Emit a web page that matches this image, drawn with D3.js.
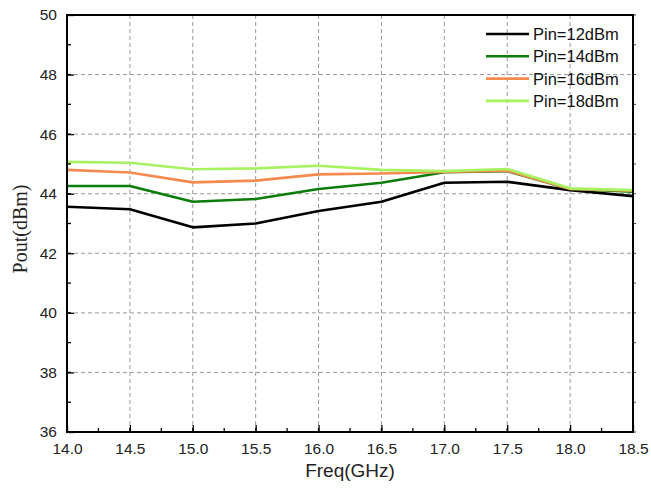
<!DOCTYPE html>
<html><head><meta charset="utf-8">
<script src="https://cdn.jsdelivr.net/npm/d3@7"></script>
<style>body{margin:0;background:#fff}svg{display:block}</style>
</head><body>
<script>
const freq = [14.0,14.5,15.0,15.5,16.0,16.5,17.0,17.5,18.0,18.5];
const pin12 = [43.56,43.48,42.87,43.00,43.42,43.73,44.37,44.40,44.12,43.92];
const pin14 = [44.26,44.26,43.73,43.82,44.16,44.37,44.72,44.76,44.16,44.07];
const pin16 = [44.80,44.71,44.38,44.44,44.65,44.68,44.73,44.77,44.16,44.10];
const pin18 = [45.07,45.04,44.82,44.85,44.94,44.80,44.76,44.83,44.18,44.12];
const seriesNames = ["Pin=12dBm","Pin=14dBm","Pin=16dBm","Pin=18dBm"];
const seriesColors = ["#000000","#0b7d0b","#f58a4e","#a6f261"];
const xTicks = [14.0,14.5,15.0,15.5,16.0,16.5,17.0,17.5,18.0,18.5];
const yTicks = [36,38,40,42,44,46,48,50];

const W=651,H=491;
const m={l:67,t:15,r:633,b:432};
const svg=d3.select("body").append("svg").attr("width",W).attr("height",H);
const x=d3.scaleLinear().domain([14,18.5]).range([m.l,m.r]);
const y=d3.scaleLinear().domain([36,50]).range([m.b,m.t]);

// grid
const g=svg.append("g");
g.selectAll(".gx").data(xTicks.filter(v=>v>14&&v<18.5)).enter().append("line")
 .attr("x1",d=>x(d)).attr("x2",d=>x(d)).attr("y1",m.t).attr("y2",m.b)
 .attr("stroke","#999").attr("stroke-width",1).attr("stroke-dasharray","4,3");
g.selectAll(".gy").data(yTicks.filter(v=>v>36&&v<50)).enter().append("line")
 .attr("y1",d=>y(d)).attr("y2",d=>y(d)).attr("x1",m.l).attr("x2",m.r)
 .attr("stroke","#999").attr("stroke-width",1).attr("stroke-dasharray","4,3");

// lines
const all=[pin12,pin14,pin16,pin18];
const line=d3.line().x((d,i)=>x(freq[i])).y(d=>y(d));
all.forEach((s,k)=>{
  svg.append("path").datum(s).attr("d",line).attr("fill","none")
   .attr("stroke",seriesColors[k]).attr("stroke-width",2.6).attr("stroke-linejoin","round");
});

// axes
const fmtX=d3.format(".1f");
const xMinor=d3.range(14,18.51,0.25);
const yMinor=d3.range(36,50.01,1);
const bottom=svg.append("g").attr("transform",`translate(0,${m.b})`)
 .call(d3.axisBottom(x).tickValues(xTicks).tickFormat(fmtX).tickSizeInner(-7).tickSizeOuter(0).tickPadding(11));
const left=svg.append("g").attr("transform",`translate(${m.l},0)`)
 .call(d3.axisLeft(y).tickValues(yTicks).tickSizeInner(-7).tickSizeOuter(0).tickPadding(10));
[bottom,left].forEach(a=>{
  a.select(".domain").remove();
  a.selectAll("line").attr("stroke","#000").attr("stroke-width",1.3);
  a.selectAll("text").attr("font-family","Arial, 'Liberation Sans', sans-serif").attr("font-size",15.5).attr("fill","#222");
});
// minor ticks
svg.append("g").selectAll("line").data(xMinor).enter().append("line")
 .attr("x1",d=>x(d)).attr("x2",d=>x(d)).attr("y1",m.b).attr("y2",m.b-4).attr("stroke","#000").attr("stroke-width",1.3);
svg.append("g").selectAll("line").data(yMinor).enter().append("line")
 .attr("y1",d=>y(d)).attr("y2",d=>y(d)).attr("x1",m.l).attr("x2",m.l+4).attr("stroke","#000").attr("stroke-width",1.3);
// right side small outward ticks
svg.append("g").selectAll("line").data(yMinor).enter().append("line")
 .attr("y1",d=>y(d)).attr("y2",d=>y(d)).attr("x1",m.r).attr("x2",m.r+3).attr("stroke","#444").attr("stroke-width",1);

// frame
svg.append("rect").attr("x",m.l).attr("y",m.t).attr("width",m.r-m.l).attr("height",m.b-m.t)
 .attr("fill","none").attr("stroke","#000").attr("stroke-width",2);

// titles
svg.append("text").attr("x",(m.l+m.r)/2).attr("y",477).attr("text-anchor","middle")
 .attr("font-family","Arial, 'Liberation Sans', sans-serif").attr("font-size",19).attr("fill","#222").text("Freq(GHz)");
svg.append("text").attr("transform",`translate(27,229) rotate(-90)`).attr("text-anchor","middle")
 .attr("font-family","'Liberation Serif','Times New Roman',serif").attr("font-size",20).attr("fill","#222").text("Pout(dBm)");

// legend
const lg=svg.append("g");
seriesNames.forEach((n,k)=>{
  const yy=34+k*22.3;
  lg.append("line").attr("x1",486).attr("x2",529).attr("y1",yy).attr("y2",yy)
   .attr("stroke",seriesColors[k]).attr("stroke-width",2.6);
  lg.append("text").attr("x",533).attr("y",yy+6).attr("font-family","Arial, 'Liberation Sans', sans-serif")
   .attr("font-size",16.5).attr("fill","#111").text(n);
});
</script>
</body></html>
